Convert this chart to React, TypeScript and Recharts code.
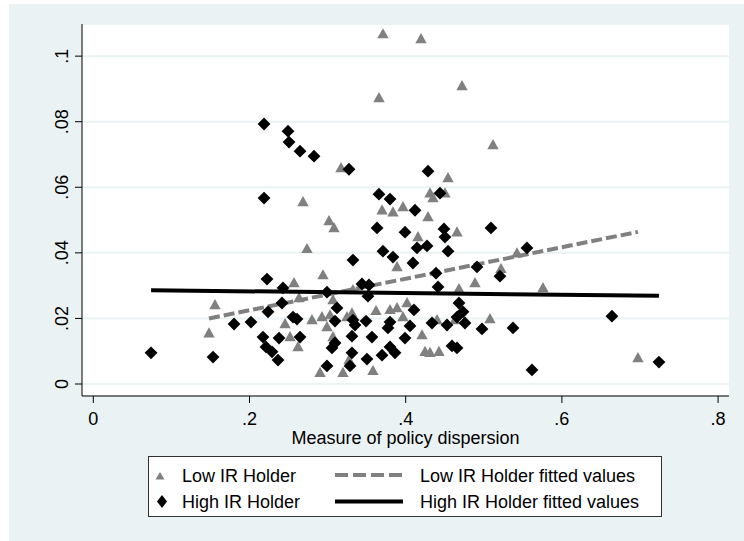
import { ScatterChart, Scatter, XAxis, YAxis, CartesianGrid } from 'recharts';

// Low IR Holder (gray triangles)
const LOW_IR = [
  { x: 0.1481, y: 0.0155 }, { x: 0.1558, y: 0.0241 }, { x: 0.2455, y: 0.0183 }, { x: 0.2519, y: 0.0143 },
  { x: 0.257, y: 0.0308 }, { x: 0.2621, y: 0.0113 }, { x: 0.2634, y: 0.0262 }, { x: 0.2685, y: 0.0555 },
  { x: 0.2736, y: 0.0412 }, { x: 0.28, y: 0.0195 }, { x: 0.2903, y: 0.0034 }, { x: 0.2928, y: 0.0204 },
  { x: 0.2941, y: 0.0332 }, { x: 0.2992, y: 0.0174 }, { x: 0.3018, y: 0.0497 }, { x: 0.3031, y: 0.021 },
  { x: 0.3069, y: 0.0256 }, { x: 0.3082, y: 0.0476 }, { x: 0.3069, y: 0.0143 }, { x: 0.3172, y: 0.0659 },
  { x: 0.3197, y: 0.0034 }, { x: 0.3248, y: 0.0204 }, { x: 0.3274, y: 0.0073 }, { x: 0.3312, y: 0.0216 },
  { x: 0.3325, y: 0.0287 }, { x: 0.3581, y: 0.004 }, { x: 0.362, y: 0.0223 }, { x: 0.3658, y: 0.0872 },
  { x: 0.3697, y: 0.053 }, { x: 0.3709, y: 0.1067 }, { x: 0.3799, y: 0.0226 }, { x: 0.3837, y: 0.0524 },
  { x: 0.3889, y: 0.0232 }, { x: 0.3889, y: 0.0357 }, { x: 0.3965, y: 0.054 }, { x: 0.3965, y: 0.0204 },
  { x: 0.4017, y: 0.0247 }, { x: 0.4157, y: 0.0448 }, { x: 0.4196, y: 0.1052 }, { x: 0.4209, y: 0.0149 },
  { x: 0.4247, y: 0.0098 }, { x: 0.4311, y: 0.0095 }, { x: 0.4286, y: 0.0509 }, { x: 0.4311, y: 0.0582 },
  { x: 0.435, y: 0.0567 }, { x: 0.4401, y: 0.0195 }, { x: 0.4426, y: 0.0098 }, { x: 0.4503, y: 0.0582 },
  { x: 0.4542, y: 0.0628 }, { x: 0.4631, y: 0.0195 }, { x: 0.4657, y: 0.0463 }, { x: 0.4682, y: 0.029 },
  { x: 0.4721, y: 0.0909 }, { x: 0.4887, y: 0.0308 }, { x: 0.5079, y: 0.0198 }, { x: 0.5118, y: 0.0729 },
  { x: 0.522, y: 0.0351 }, { x: 0.5425, y: 0.0399 }, { x: 0.5758, y: 0.0293 }, { x: 0.6974, y: 0.0079 },
];

// High IR Holder (black diamonds)
const HIGH_IR = [
  { x: 0.0739, y: 0.0095 }, { x: 0.1533, y: 0.0082 }, { x: 0.1802, y: 0.0183 }, { x: 0.2019, y: 0.0189 },
  { x: 0.2173, y: 0.0143 }, { x: 0.2186, y: 0.0793 }, { x: 0.2186, y: 0.0567 }, { x: 0.2211, y: 0.0113 },
  { x: 0.2224, y: 0.032 }, { x: 0.2237, y: 0.022 }, { x: 0.2288, y: 0.0098 }, { x: 0.2365, y: 0.0073 },
  { x: 0.2378, y: 0.014 }, { x: 0.2416, y: 0.0247 }, { x: 0.2429, y: 0.0293 }, { x: 0.2493, y: 0.0771 },
  { x: 0.2506, y: 0.0738 }, { x: 0.2557, y: 0.0204 }, { x: 0.2608, y: 0.0198 }, { x: 0.2647, y: 0.071 },
  { x: 0.2647, y: 0.0143 }, { x: 0.2826, y: 0.0695 }, { x: 0.2992, y: 0.028 }, { x: 0.2992, y: 0.0055 },
  { x: 0.3056, y: 0.011 }, { x: 0.3095, y: 0.0125 }, { x: 0.3095, y: 0.0192 }, { x: 0.312, y: 0.0232 },
  { x: 0.3274, y: 0.0655 }, { x: 0.3287, y: 0.0055 }, { x: 0.3312, y: 0.0146 }, { x: 0.3312, y: 0.0095 },
  { x: 0.3325, y: 0.0378 }, { x: 0.3325, y: 0.0195 }, { x: 0.3351, y: 0.018 }, { x: 0.344, y: 0.0305 },
  { x: 0.353, y: 0.0302 }, { x: 0.3517, y: 0.0268 }, { x: 0.3492, y: 0.0192 }, { x: 0.3504, y: 0.0076 },
  { x: 0.3568, y: 0.0143 }, { x: 0.3633, y: 0.0476 }, { x: 0.3658, y: 0.0579 }, { x: 0.3697, y: 0.0088 },
  { x: 0.3709, y: 0.0405 }, { x: 0.3773, y: 0.0171 }, { x: 0.3799, y: 0.0564 }, { x: 0.3799, y: 0.0189 },
  { x: 0.3799, y: 0.0113 }, { x: 0.3837, y: 0.0387 }, { x: 0.3863, y: 0.0095 }, { x: 0.3991, y: 0.0463 },
  { x: 0.3991, y: 0.014 }, { x: 0.4055, y: 0.0177 }, { x: 0.4093, y: 0.0369 }, { x: 0.4106, y: 0.0226 },
  { x: 0.4119, y: 0.053 }, { x: 0.4145, y: 0.0415 }, { x: 0.4273, y: 0.0421 }, { x: 0.4286, y: 0.0649 },
  { x: 0.4337, y: 0.0186 }, { x: 0.4388, y: 0.0338 }, { x: 0.4414, y: 0.0296 }, { x: 0.4439, y: 0.0582 },
  { x: 0.449, y: 0.0473 }, { x: 0.4503, y: 0.0448 }, { x: 0.4529, y: 0.018 }, { x: 0.4542, y: 0.0405 },
  { x: 0.4593, y: 0.0116 }, { x: 0.4657, y: 0.011 }, { x: 0.4657, y: 0.0204 }, { x: 0.4682, y: 0.0247 },
  { x: 0.4734, y: 0.022 }, { x: 0.4759, y: 0.0186 }, { x: 0.4913, y: 0.0357 }, { x: 0.4977, y: 0.0168 },
  { x: 0.5092, y: 0.0476 }, { x: 0.5207, y: 0.0329 }, { x: 0.5374, y: 0.0171 }, { x: 0.5553, y: 0.0415 },
  { x: 0.5617, y: 0.0043 }, { x: 0.6641, y: 0.0207 }, { x: 0.7243, y: 0.0067 },
];

// fitted values, end points
const LOW_FIT = [{ x: 0.1481, y: 0.02 }, { x: 0.6974, y: 0.0464 }];
const HIGH_FIT = [{ x: 0.0739, y: 0.0286 }, { x: 0.7243, y: 0.0269 }];

const X_TICKS = [0, 0.2, 0.4, 0.6, 0.8];
const Y_TICKS = [0, 0.02, 0.04, 0.06, 0.08, 0.1];

const FONT = '"Liberation Sans", Arial, sans-serif';
const BG = '#EAF2F3';
const GRAY = '#808080';

const fmt = (v: number) => (v === 0 ? '0' : String(v).replace(/^0/, ''));

const Triangle = (p: any) => {
  const { cx, cy } = p;
  return <polygon points={`${cx},${cy - 6} ${cx + 5.7},${cy + 4.2} ${cx - 5.7},${cy + 4.2}`} fill={GRAY} />;
};

const Diamond = (p: any) => {
  const { cx, cy } = p;
  const r = 6.4;
  return <polygon points={`${cx},${cy - r} ${cx + r},${cy} ${cx},${cy + r} ${cx - r},${cy}`} fill="#000" />;
};

const NoDot = () => <g />;

const YTick = (props: any) => {
  const { x, y, payload } = props;
  const bx = x - 5;
  return (
    <text x={bx} y={y} transform={`rotate(-90 ${bx} ${y})`} textAnchor="middle" fontSize={18} fontFamily={FONT} fill="#000">
      {fmt(payload.value)}
    </text>
  );
};

function LegendBox() {
  const t = { fontSize: 18, fontFamily: FONT, fill: '#000' };
  return (
    <svg width={744} height={541} style={{ position: 'absolute', left: 0, top: 0, pointerEvents: 'none' }}>
      <rect x={148.5} y={456.5} width={513} height={60} fill="#fff" stroke="#333" strokeWidth={1} />
      <polygon points="160,472 164.5,479.5 155.5,479.5" fill={GRAY} />
      <text x={182} y={482} {...t}>Low IR Holder</text>
      <line x1={335} x2={403} y1={475} y2={475} stroke={GRAY} strokeWidth={4} strokeDasharray="13 5" />
      <text x={420} y={482} {...t}>Low IR Holder fitted values</text>
      <polygon points="162,495 167,501.5 162,508 157,501.5" fill="#000" />
      <text x={182} y={508} {...t}>High IR Holder</text>
      <line x1={335} x2={403} y1={501.5} y2={501.5} stroke="#000" strokeWidth={4} />
      <text x={420} y={508} {...t}>High IR Holder fitted values</text>
    </svg>
  );
}

export default function App() {
  return (
    <div style={{ position: 'absolute', left: 0, top: 0, width: 744, height: 541, background: '#fff', overflow: 'hidden' }}>
      <div style={{ position: 'absolute', left: 9, top: 4, right: 0, bottom: 0, background: BG }} />
      <div style={{ position: 'absolute', left: 0, top: 0 }}>
        <ScatterChart width={744} height={541} margin={{ top: 24, right: 15, bottom: 85, left: 0 }}>
          <CartesianGrid vertical={false} fill="#fff" stroke={BG} strokeWidth={2} />
          <XAxis
            type="number"
            dataKey="x"
            domain={[-0.0145, 0.814]}
            allowDataOverflow
            ticks={X_TICKS}
            tickFormatter={fmt}
            height={60}
            tickSize={7}
            tickMargin={9}
            axisLine={{ stroke: '#000' }}
            tickLine={{ stroke: '#000' }}
            tick={{ fill: '#000', fontSize: 18, fontFamily: FONT }}
            label={{ value: 'Measure of policy dispersion', position: 'insideBottom', offset: 12, fill: '#000', fontSize: 18, fontFamily: FONT }}
          />
          <YAxis
            type="number"
            dataKey="y"
            domain={[-0.00366, 0.1098]}
            allowDataOverflow
            ticks={Y_TICKS}
            width={82}
            tickSize={7}
            axisLine={{ stroke: '#000' }}
            tickLine={{ stroke: '#000' }}
            tick={<YTick />}
          />
          <Scatter data={LOW_IR} shape={<Triangle />} isAnimationActive={false} />
          <Scatter
            data={LOW_FIT}
            shape={<NoDot />}
            line={{ stroke: GRAY, strokeWidth: 4, strokeDasharray: '11 4' }}
            isAnimationActive={false}
          />
          <Scatter data={HIGH_IR} shape={<Diamond />} isAnimationActive={false} />
          <Scatter
            data={HIGH_FIT}
            shape={<NoDot />}
            line={{ stroke: '#000', strokeWidth: 4 }}
            isAnimationActive={false}
          />
        </ScatterChart>
      </div>
      <LegendBox />
    </div>
  );
}
